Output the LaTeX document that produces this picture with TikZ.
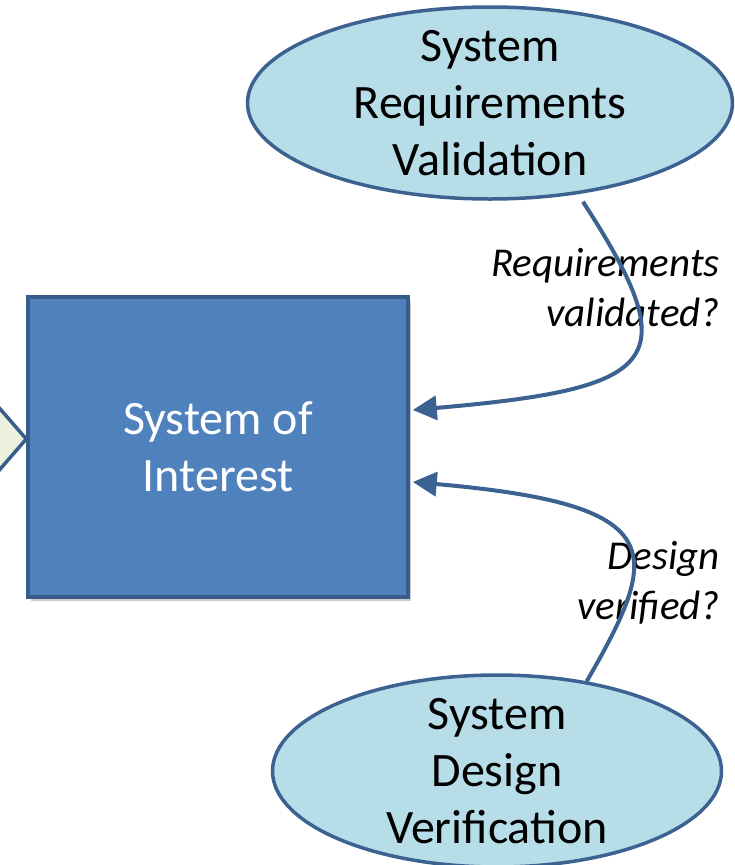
\documentclass[tikz,border=0pt]{standalone}
\usepackage{fontspec}
\setmainfont{Carlito}
\usetikzlibrary{positioning, calc, shapes.geometric, arrows.meta, shadows}
\definecolor{soiFill}{RGB}{79,129,189}
\definecolor{soiLine}{RGB}{56,93,138}
\definecolor{vvFill}{RGB}{183,221,232}
\definecolor{flowColor}{RGB}{59,98,145}
\definecolor{decFill}{RGB}{235,241,222}
\tikzset{
    soibox/.style={
        rectangle,
        draw=soiLine,
        fill=soiFill,
        line width=3.5pt,
        minimum width=380pt,
        minimum height=300pt,
        text=white,
        align=center,
        font=\fontsize{48}{57}\selectfont,
        drop shadow={shadow xshift=3pt, shadow yshift=-4pt, opacity=0.4}
    },
    vvnode/.style={
        ellipse,
        draw=flowColor,
        fill=vvFill,
        line width=3.5pt,
        inner xsep=0pt,
        inner ysep=-20pt,
        minimum height=192pt,
        align=center,
        font=\fontsize{48}{57}\selectfont
    },
    decision/.style={
        diamond,
        draw=soiLine,
        fill=decFill,
        line width=3.5pt,
        aspect=0.87,
        minimum height=230pt,
        minimum width=200pt
    },
    flowlabel/.style={
        align=right,
        inner sep=0pt,
        font=\itshape\fontsize{41}{50}\selectfont
    },
    flow/.style={
        -{Triangle[length=24pt,width=24pt]},
        draw=flowColor,
        line width=4pt
    }
}

\begin{document}
\begin{tikzpicture}[x=1pt, y=1pt]
    \useasboundingbox (0,0) rectangle (734,-865);
    \clip (0,0) rectangle (734,-865);

    \node[decision] (prev) at (-73,-439) {};
    \node[soibox] (soi) at (218,-447) {System of\\Interest};
    \node[vvnode, minimum width=485pt] (reqval) at (490,-103) {System\\Requirements\\Validation};
    \node[vvnode, minimum width=449pt] (desver) at (497,-771) {System\\Design\\Verification};

    \node[flowlabel, anchor=north east] (reqlbl) at (720,-248) {Requirements\\validated?};
    \node[flowlabel, anchor=north east] (deslbl) at (720,-541) {Design\\verified?};

    \draw[flow, shorten <=9pt] (reqval.-46) .. controls +(-57:200) and +(5:250) .. ($(soi.east)+(3,37)$);
    \draw[flow] (desver.45) .. controls +(60:150) and +(-5:260) .. ($(soi.east)+(3,-35)$);
\end{tikzpicture}
\end{document}
